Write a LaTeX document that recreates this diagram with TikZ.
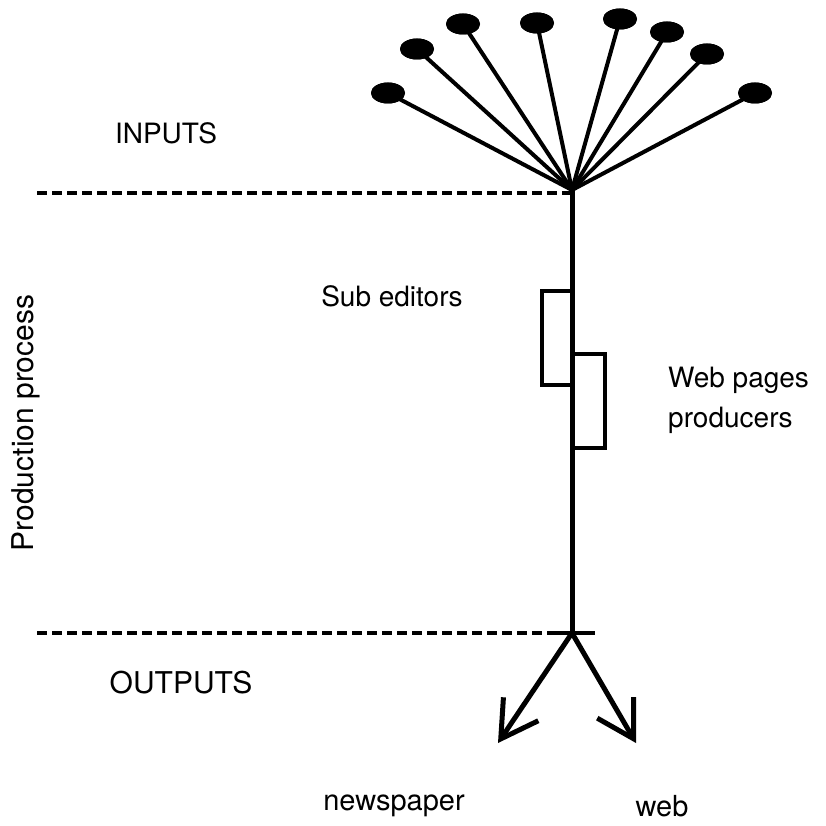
\documentclass[tikz,border=0pt]{standalone}
\usepackage{fontspec}
\setmainfont{TeX Gyre Heros}
\usetikzlibrary{shapes.geometric,arrows.meta}
\begin{document}
\begin{tikzpicture}[x=1pt,y=-1pt,
  source/.style={ellipse,fill=black,draw=none,minimum width=34pt,minimum height=21pt,inner sep=0pt},
  spoke/.style={line width=4pt},
  stem/.style={line width=5pt},
  boundary/.style={line width=3.2pt,dash pattern=on 10pt off 5pt},
  stage/.style={draw,line width=3.5pt,rectangle,inner sep=0pt,fill=white},
  outflow/.style={line width=5pt,-{Straight Barb[length=36pt,width=42pt,line width=5pt]}},
  lbl/.style={inner sep=0pt,font=\fontsize{28}{40}\selectfont}]
\useasboundingbox (0,0) rectangle (826,826);

% junction points on the stem
\coordinate (top) at (572,190);
\coordinate (bottom) at (572,633);
\coordinate (inL) at (37,193);
\coordinate (inR) at (572,193);
\coordinate (outL) at (37,633);
\coordinate (tickL) at (548,633);
\coordinate (tickR) at (595,633);
\coordinate (paper) at (498,743);
\coordinate (webout) at (636,743);

% input sources
\node[source] (s1) at (388,93) {};
\node[source] (s2) at (417,49) {};
\node[source] (s3) at (463,24) {};
\node[source] (s4) at (537,23) {};
\node[source] (s5) at (620,19) {};
\node[source] (s6) at (667,32) {};
\node[source] (s7) at (707,54) {};
\node[source] (s8) at (755,93) {};

% spokes into the stem, then the sources redrawn on top
\foreach \s in {s1,s2,s3,s4,s5,s6,s7,s8}
  \draw[spoke] (\s.center) -- (top);
\foreach \s in {s1,s2,s3,s4,s5,s6,s7,s8}
  \node[source] at (\s) {};

% boundaries
\draw[boundary] (inL) -- (inR);
\draw[boundary] (outL) -- (tickL);
\draw[line width=3.5pt] (tickL) -- (tickR);

% processing stages
\node[stage,minimum width=30pt,minimum height=94pt] (sub) at (557,338) {};
\node[stage,minimum width=33pt,minimum height=94pt] (webprod) at (588.5,401) {};

% stem
\draw[stem] (top) -- (bottom);

% outputs
\draw[outflow] (bottom) -- (paper);
\draw[outflow] (bottom) -- (webout);

% labels
\node[lbl] (inputs) at (166,133) {INPUTS};
\node[lbl] (subl) at (392,296) {Sub editors};
\node[lbl,align=left,anchor=west] (webl) at (668,400) {Web pages\\producers};
\node[lbl,font=\fontsize{30}{36}\selectfont] (outputs) at (181,683) {OUTPUTS};
\node[lbl,font=\fontsize{29}{36}\selectfont] (newsl) at (394,806) {newspaper};
\node[lbl,font=\fontsize{29}{36}\selectfont] (webtxt) at (662,806) {web};
\node[lbl,rotate=90,font=\fontsize{30}{36}\selectfont] (prod) at (26,423) {Production process};
\end{tikzpicture}
\end{document}
